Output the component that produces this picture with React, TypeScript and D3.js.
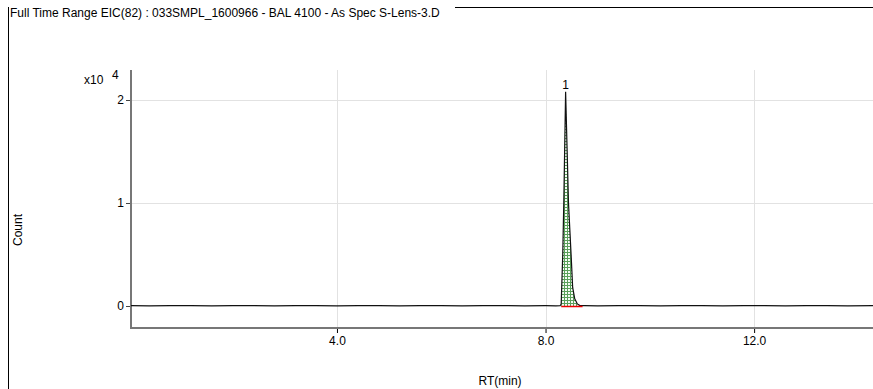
import { useRef, useEffect } from "react";
import * as d3 from "d3";

// retention time (min) and count (x10^4)
const rtValues = [
  0.05, 0.4, 0.8, 1.2, 1.6, 2.0, 2.4, 2.8, 3.2, 3.6, 4.0, 4.4, 4.8, 5.2, 5.6,
  6.0, 6.4, 6.8, 7.2, 7.6, 8.0, 8.2, 8.28, 8.3, 8.33, 8.35, 8.385, 8.44, 8.49,
  8.52, 8.56, 8.61, 8.66, 8.75, 9.0, 9.4, 9.8, 10.2, 10.6, 11.0, 11.4, 11.8,
  12.2, 12.6, 13.0, 13.4, 13.8, 14.28,
];
const countValues = [
  0.003, 0.002, 0.004, 0.003, 0.002, 0.003, 0.004, 0.002, 0.003, 0.003, 0.002,
  0.004, 0.003, 0.002, 0.003, 0.004, 0.002, 0.003, 0.003, 0.002, 0.003, 0.002,
  0.003, 0.02, 0.5, 1.0, 2.08, 1.0, 0.5, 0.18, 0.07, 0.02, 0.004, 0.003, 0.002,
  0.003, 0.004, 0.002, 0.003, 0.003, 0.002, 0.004, 0.003, 0.002, 0.003, 0.003,
  0.002, 0.003,
];
const peakStart = 8.3;
const peakEnd = 8.61;
const baselineStart = 8.3;
const baselineEnd = 8.71;
const peakRt = 8.385;
const peakHeight = 2.08;
const peakLabel = "1";
const xTicks = [4.0, 8.0, 12.0];
const yTicks = [0, 1, 2];
const title =
  "Full Time Range EIC(82) : 033SMPL_1600966 - BAL 4100 - As Spec S-Lens-3.D";

const FONT = "'Liberation Sans', Arial, sans-serif";
const FS = 12;

export default function App() {
  const svgRef = useRef<SVGSVGElement>(null);

  useEffect(() => {
    const svg = d3.select(svgRef.current);
    svg.selectAll("*").remove();

    const x = d3.scaleLinear().domain([0.05, 14.28]).range([131, 873]);
    const y = d3.scaleLinear().domain([0, 2]).range([306, 100]);

    // frame
    svg.append("line").attr("x1", 8.5).attr("x2", 8.5).attr("y1", 7).attr("y2", 389)
      .attr("stroke", "#000");
    svg.append("line").attr("x1", 455).attr("x2", 873).attr("y1", 7.5).attr("y2", 7.5)
      .attr("stroke", "#000");
    svg.append("text").attr("x", 10).attr("y", 17).text(title)
      .attr("font-family", FONT).attr("font-size", FS).attr("fill", "#000");

    // grid
    svg.append("g").selectAll("line").data(xTicks).join("line")
      .attr("x1", (d) => Math.round(x(d)) + 0.5).attr("x2", (d) => Math.round(x(d)) + 0.5)
      .attr("y1", 70).attr("y2", 327).attr("stroke", "#e2e2e2");
    svg.append("g").selectAll("line").data(yTicks.filter((d) => d > 0)).join("line")
      .attr("x1", 131).attr("x2", 873)
      .attr("y1", (d) => Math.round(y(d)) + 0.5).attr("y2", (d) => Math.round(y(d)) + 0.5)
      .attr("stroke", "#e2e2e2");

    // hatch pattern for the integrated peak
    const defs = svg.append("defs");
    const pat = defs.append("pattern").attr("id", "hatch").attr("patternUnits", "userSpaceOnUse")
      .attr("width", 3).attr("height", 3);
    pat.append("rect").attr("width", 3).attr("height", 3).attr("fill", "#f4fbf4");
    pat.append("path").attr("d", "M0,0.5H3M0.5,0V3").attr("stroke", "#5aa05a").attr("stroke-width", 1);

    const pts = rtValues.map((r, i) => [r, countValues[i]] as [number, number]);
    const peakPts = pts.filter((p) => p[0] >= peakStart && p[0] <= peakEnd);
    const area = d3.area<[number, number]>()
      .x((d) => x(d[0])).y0(y(0)).y1((d) => y(d[1]));
    svg.append("path").datum(peakPts).attr("d", area).attr("fill", "url(#hatch)");

    // axes
    const yAxis = d3.axisLeft(y).tickValues(yTicks).tickFormat(d3.format("d"))
      .tickSize(5).tickPadding(2);
    const gy = svg.append("g").attr("transform", "translate(131,0)").call(yAxis);
    gy.select(".domain").remove();
    gy.selectAll("line").attr("stroke", "#444");
    gy.selectAll("text").attr("font-family", FONT).attr("font-size", FS).attr("fill", "#000");

    const xAxis = d3.axisBottom(x).tickValues(xTicks).tickFormat(d3.format(".1f"))
      .tickSize(5).tickPadding(3);
    const gx = svg.append("g").attr("transform", "translate(0,328)").call(xAxis);
    gx.select(".domain").remove();
    gx.selectAll("line").attr("stroke", "#000");
    gx.selectAll("text").attr("font-family", FONT).attr("font-size", FS).attr("fill", "#000");

    svg.append("line").attr("x1", 131).attr("x2", 131).attr("y1", 70).attr("y2", 328)
      .attr("stroke", "#777").attr("stroke-width", 2);
    svg.append("line").attr("x1", 130).attr("x2", 873).attr("y1", 328).attr("y2", 328)
      .attr("stroke", "#777").attr("stroke-width", 2);

    // trace
    const line = d3.line<[number, number]>().x((d) => x(d[0])).y((d) => y(d[1]));
    svg.append("path").datum(pts).attr("d", line).attr("fill", "none")
      .attr("stroke", "#111").attr("stroke-width", 1.2);

    // integration baseline
    svg.append("line").attr("x1", x(baselineStart)).attr("x2", x(baselineEnd))
      .attr("y1", y(0) + 0.5).attr("y2", y(0) + 0.5).attr("stroke", "#e00").attr("stroke-width", 1.5);

    svg.append("text").attr("x", x(peakRt)).attr("y", y(peakHeight) - 3)
      .attr("text-anchor", "middle").text(peakLabel)
      .attr("font-family", FONT).attr("font-size", FS).attr("fill", "#000");

    // labels
    svg.append("text").attr("x", 84).attr("y", 84).text("x10")
      .attr("font-family", FONT).attr("font-size", FS).attr("fill", "#000");
    svg.append("text").attr("x", 112).attr("y", 79).text("4")
      .attr("font-family", FONT).attr("font-size", FS).attr("fill", "#000");
    svg.append("text").attr("transform", "translate(22,230) rotate(-90)")
      .attr("text-anchor", "middle").text("Count")
      .attr("font-family", FONT).attr("font-size", FS).attr("fill", "#000");
    svg.append("text").attr("x", 500).attr("y", 385).attr("text-anchor", "middle").text("RT(min)")
      .attr("font-family", FONT).attr("font-size", FS).attr("fill", "#000");
  }, []);

  return (
    <svg
      ref={svgRef}
      width={873}
      height={389}
      style={{ position: "absolute", left: 0, top: 0, background: "#fff" }}
    />
  );
}
